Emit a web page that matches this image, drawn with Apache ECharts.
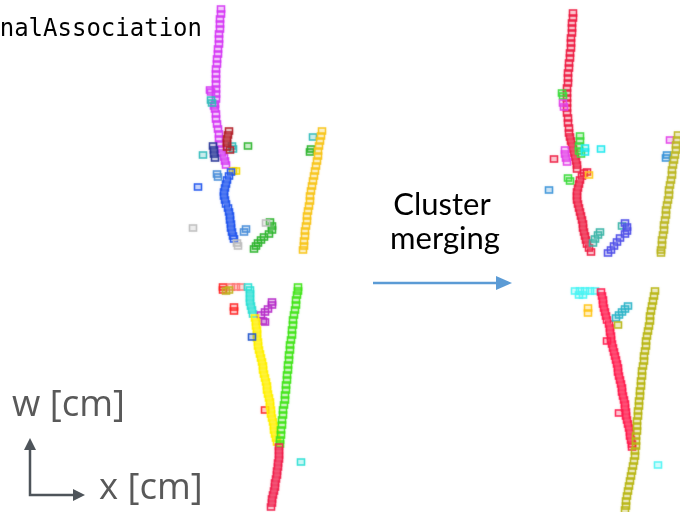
<!DOCTYPE html>
<html><head><meta charset="utf-8">
<script src="https://cdn.jsdelivr.net/npm/echarts@6/dist/echarts.min.js"></script>
<style>html,body{margin:0;padding:0;background:#fff}#c{width:680px;height:512px}</style>
</head><body><div id="c"></div>
<script>
// ---- Hits (x, w); w axis drawn downward like the figure ----
// Left panel (before merging), upper view
const L1_magenta = [[221,9],[221,14],[220,19],[220,24],[220,29],[219,34],[219,39],[219,44],[218,49],[218,54],[217,59],[217,64],[216,69],[216,74],[216,79],[216,84],[216,89],[216,94],[216,99],[215,104],[215,109],[216,114],[216,119],[217,124],[218,129],[219,134],[219,139],[220,144],[221,149],[222,153],[224,157],[225,161],[226,165],[210,90],[211,92],[214,106]];
const L1_teal = [[211,100],[212,103],[232,146],[233,149],[203,155],[313,137]];
const L1_darkred = [[229,131],[228,135],[227,139],[227,143],[227,147],[230,150]];
const L1_navy = [[213,146],[214,150],[214,154],[215,158]];
const L1_green = [[248,146],[270,222],[272,226],[272,230],[269,234],[264,237],[261,240],[258,243],[256,246],[254,249],[310,152],[311,149]];
const L1_yellow = [[233,171],[236,171]];
const L1_blue = [[231,172],[229,176],[227,180],[226,184],[225,188],[224,192],[224,196],[225,200],[226,204],[228,208],[229,212],[230,216],[230,220],[231,224],[231,228],[232,232],[233,236],[234,239],[198,187]];
const L1_lightblue = [[217,174],[218,177],[246,229],[244,232]];
const L1_grey = [[193,228],[237,243],[238,246],[266,223]];
const L1_orange = [[322,131],[321,136],[320,141],[319,146],[318,151],[318,156],[317,161],[316,166],[315,171],[314,176],[313,181],[312,186],[311,191],[310,196],[310,201],[309,206],[308,211],[307,216],[307,221],[306,226],[305,231],[305,236],[304,241],[304,246],[303,250]];
// Left panel, lower view
const L2_red = [[223,287],[223,290],[234,307],[234,311],[265,410]];
const L2_salmon = [[231,287],[236,287],[241,287]];
const L2_olive = [[226,291],[229,290]];
const L2_cyan = [[248,287],[250,290],[250,294],[250,298],[250,302],[251,306],[252,310],[253,314],[301,462]];
const L2_purple = [[272,302],[272,305],[268,309],[265,312],[261,315],[263,321],[265,322]];
const L2_yellow = [[255,318],[256,322],[256,326],[257,330],[257,334],[257,338],[258,342],[258,346],[259,350],[260,354],[261,358],[262,362],[263,366],[263,370],[264,374],[265,378],[266,382],[267,386],[267,390],[268,394],[269,398],[270,402],[270,406],[271,410],[271,414],[272,418],[273,422],[274,426],[274,430],[275,434],[276,438],[277,442]];
const L2_blue = [[252,337]];
const L2_green = [[298,287],[298,291],[297,295],[296,300],[296,305],[295,310],[294,315],[293,320],[293,325],[292,330],[292,335],[291,340],[290,345],[290,350],[289,355],[289,360],[288,365],[288,370],[287,375],[287,380],[286,385],[286,390],[285,395],[285,400],[284,405],[283,410],[283,415],[282,420],[282,425],[281,430],[281,435],[280,440],[280,444]];
const L2_crimson = [[279,447],[279,451],[279,455],[279,459],[278,463],[278,467],[277,471],[277,475],[276,479],[275,483],[275,487],[274,491],[273,495],[272,499],[272,503],[271,507]];
// Right panel (after merging), upper view
const R1_red = [[573,13],[573,18],[572,23],[572,28],[572,33],[571,38],[571,43],[571,48],[570,53],[570,58],[569,63],[569,68],[568,73],[568,78],[568,83],[567,88],[567,93],[567,98],[567,103],[567,108],[567,113],[568,118],[568,123],[569,128],[569,133],[570,137],[571,141],[572,145],[573,149],[574,153],[575,157],[576,161],[577,165],[577,169],[554,159],
  [587,172],[584,173],[582,176],[580,180],[579,184],[578,188],[577,192],[577,196],[577,200],[578,204],[579,208],[580,212],[581,216],[582,220],[583,224],[583,228],[584,232],[585,236],[586,240],[587,244],[589,248],[591,252]];
const R1_green = [[562,93],[563,96],[580,136],[580,141],[579,146],[579,151],[581,154],[568,178],[570,181]];
const R1_magenta = [[563,103],[564,107],[565,150],[565,154],[566,158],[567,162],[670,140]];
const R1_cyan = [[585,148],[585,152],[601,149]];
const R1_lightblue = [[549,190],[667,155],[666,158]];
const R1_yellow = [[589,175]];
const R1_teal = [[600,232],[598,235],[595,239],[593,243],[622,226]];
const R1_blue = [[625,223],[627,227],[627,231],[625,234],[620,238],[617,242],[614,246],[611,250],[608,253]];
const R1_olive = [[678,135],[677,140],[676,145],[676,150],[675,155],[674,160],[673,165],[672,170],[672,175],[671,180],[670,185],[669,190],[669,195],[668,200],[667,205],[666,210],[666,215],[665,220],[664,225],[664,230],[663,235],[662,240],[662,245],[661,250],[661,253]];
// Right panel, lower view
const R2_cyan = [[575,291],[580,291],[585,291],[590,291],[595,291],[579,295],[583,295],[658,465]];
const R2_orange = [[588,308],[588,313]];
const R2_red = [[601,292],[602,296],[603,300],[603,304],[604,308],[605,312],[606,316],[607,320],[609,324],[610,328],[610,332],[611,336],[611,340],[612,344],[613,348],[614,352],[615,356],[616,360],[617,364],[618,368],[618,372],[619,376],[620,380],[621,384],[622,388],[622,392],[623,396],[624,400],[625,404],[625,408],[626,412],[626,416],[627,420],[628,424],[629,428],[630,432],[630,436],[631,440],[632,444],[632,447],[607,341],[619,413]];
const R2_teal = [[628,306],[625,309],[622,312],[619,315],[616,318]];
const R2_olive = [[655,291],[654,296],[653,301],[652,306],[651,311],[650,316],[650,321],[649,326],[648,331],[647,336],[646,341],[646,346],[645,351],[644,356],[644,361],[643,366],[642,371],[642,376],[641,381],[641,386],[640,391],[640,396],[639,401],[639,406],[638,411],[638,416],[637,421],[637,426],[637,431],[636,436],[636,441],[636,446],[635,451],[635,456],[634,461],[633,466],[632,471],[631,476],[630,481],[629,486],[628,491],[627,496],[626,501],[626,506],[625,510],[618,325]];

// ---- Labels ----
const titleText = 'nalAssociation';
const arrowText = ['Cluster', 'merging'];
const axisW = 'w [cm]';
const axisX = 'x [cm]';

const clusters = [
  [L1_magenta,'#d63cf5'],[L1_teal,'#33bbbb'],[L1_darkred,'#b3212a'],[L1_navy,'#2a3799'],
  [L1_green,'#2fb52f'],[L1_yellow,'#f5d800'],[L1_blue,'#2256ee'],[L1_lightblue,'#4a8fd9'],
  [L1_grey,'#bdbdbd'],[L1_orange,'#f7c51b'],
  [L2_red,'#ff2a2a'],[L2_salmon,'#ff7b7b'],[L2_olive,'#c2b322'],[L2_cyan,'#2fe0d5'],
  [L2_purple,'#b82fc9'],[L2_yellow,'#fff000'],[L2_blue,'#2255cc'],[L2_green,'#45e51d'],[L2_crimson,'#f0234f'],
  [R1_red,'#ee2046'],[R1_green,'#3fdc3f'],[R1_magenta,'#e445e8'],[R1_cyan,'#1fe8ee'],
  [R1_lightblue,'#3a94d8'],[R1_yellow,'#ffc91c'],[R1_teal,'#3cb5a8'],[R1_blue,'#4f4fe8'],[R1_olive,'#bdb824'],
  [R2_cyan,'#4ff5f5'],[R2_orange,'#ffc61a'],[R2_red,'#ff1f50'],[R2_teal,'#2fb5c9'],[R2_olive,'#b9b716']
];

function hexA(h, a){const r=parseInt(h.slice(1,3),16),g=parseInt(h.slice(3,5),16),b=parseInt(h.slice(5,7),16);return `rgba(${r},${g},${b},${a})`;}

const chart = echarts.init(document.getElementById('c'), null, {renderer:'canvas'});
const gray = '#595959';
chart.setOption({
  animation:false,
  backgroundColor:'#ffffff',
  grid:{left:0,right:0,top:0,bottom:0},
  xAxis:{type:'value',min:0,max:680,show:false},
  yAxis:{type:'value',min:0,max:512,inverse:true,show:false},
  series: clusters.map(([d,c]) => ({
    type:'scatter', data:d, symbol:'rect', symbolSize:[7,6],
    itemStyle:{color:hexA(c,0.22), borderColor:c, borderWidth:1.4, shadowBlur:2, shadowColor:hexA(c,0.45)},
    silent:true
  })),
  graphic:[
    {type:'text', style:{text:titleText, x:202, y:42, align:'right', verticalAlign:'bottom', font:'24px "DejaVu Sans Mono"', fill:'#000'}},
    {type:'text', style:{text:arrowText[0], x:442, y:189, align:'center', verticalAlign:'top', font:'31px Lato', fill:'#000'}},
    {type:'text', style:{text:arrowText[1], x:445, y:223, align:'center', verticalAlign:'top', font:'31px Lato', fill:'#000'}},
    {type:'line', shape:{x1:373, y1:283, x2:498, y2:283}, style:{stroke:'#5b9bd5', lineWidth:2.5}},
    {type:'polygon', shape:{points:[[496,276],[512,283],[496,290]]}, style:{fill:'#5b9bd5'}},
    {type:'text', style:{text:axisW, x:12, y:387, align:'left', verticalAlign:'top', font:'36.5px "Open Sans"', fill:gray}},
    {type:'text', style:{text:axisX, x:99, y:470, align:'left', verticalAlign:'top', font:'36.5px "Open Sans"', fill:gray}},
    {type:'polyline', shape:{points:[[30,448],[30,495],[76,495]]}, style:{stroke:'#4e545a', lineWidth:2.5, fill:null}},
    {type:'polygon', shape:{points:[[24,450],[30,438],[36,450]]}, style:{fill:'#4e545a'}},
    {type:'polygon', shape:{points:[[73,489],[85,495],[73,501]]}, style:{fill:'#4e545a'}}
  ]
});
</script></body></html>
